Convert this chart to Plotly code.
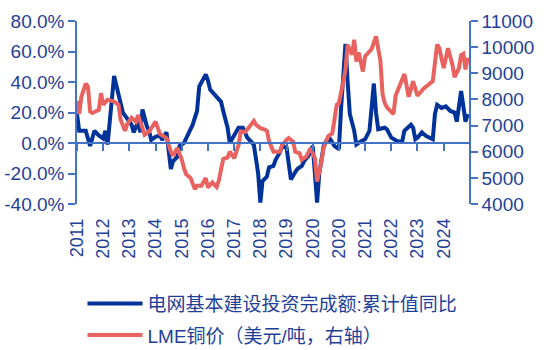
import plotly.graph_objects as go

# ---- data ----
year_labels = ["2011", "2012", "2013", "2014", "2015", "2016", "2017", "2018",
               "2019", "2020", "2020", "2021", "2022", "2023", "2024"]
label_month = [0, 12, 24, 36, 48, 60, 72, 84, 96, 108, 120, 132, 144, 156, 168]

# months since the first observation
grid_month = [0, 1, 4, 6, 8, 10, 12, 13, 14, 17, 19, 21, 22, 24, 25, 26, 28, 29, 30, 32,
              33, 34, 36, 38, 39, 41, 43, 44, 46, 47, 49, 51, 53, 55, 56, 59, 60, 61, 63, 66,
              67, 69, 70, 72, 74, 76, 78, 81, 83, 84, 85, 87, 88, 90, 91, 93, 94, 96, 97, 98,
              100, 101, 103, 104, 106, 108, 109, 110, 111, 113, 114, 116, 118, 120, 121, 122,
              123, 124, 125, 127, 128, 130, 132, 134, 135, 136, 137, 138, 141, 142, 144, 147,
              149, 150, 153, 154, 155, 156, 158, 160, 163, 164, 165, 167, 169, 171, 173, 174,
              176, 177, 178, 179]
grid_yoy = [19, 8, 8, -2, 8, 5, 3, 8, -1, 44, 32, 20, 18, 14, 12, 7, 14, 7, 22, 11,
            8, 2, 4, 5, 2, 7, -17, -12, -9, -2, 0, 6, 12, 21, 37, 45, 41, 35, 32, 27,
            21, 10, 0, 4.5, 10, 10, 3.5, -1, -20, -39, -25, -22, -16, -15, -11, -6, -2, -3, -12, -24,
            -19, -17, -15, -12, -8.5, -2, -20, -39, -20, -2, 1, 2.5, -2, -4, 23, 43,
            65, 40, 19, 8, -1, 1, 2.5, 8, 22, 39, 20, 9, 10, 9, 3.5, 1,
            1, 8, 12, 10, 2.5, 3.5, 7, 4.5, 2.5, 19, 25, 23, 24, 21, 20, 14,
            34, 21, 14, 19]

copper_month = [0, 1, 2, 4, 5, 6, 7, 10, 11, 12, 14, 17, 19, 20, 22, 23, 25, 27, 28, 30,
                31, 33, 36, 38, 41, 43, 44, 46, 48, 49, 50, 52, 54, 55, 57, 59, 60, 62, 64, 65,
                67, 69, 70, 72, 74, 75, 77, 79, 81, 82, 84, 86, 87, 88, 90, 93, 94, 96, 97, 99,
                100, 102, 103, 105, 107, 109, 110, 112, 113, 115, 117, 119, 120, 122, 123, 124,
                126, 127, 128, 129, 131, 132, 135, 137, 139, 140, 141, 142, 145, 146, 148, 150,
                152, 154, 156, 159, 161, 163, 165, 166, 168, 170, 172, 173, 175, 176, 177, 178, 179]
copper_usd = [7950, 7450, 8100, 8600, 8500, 7540, 7480, 7600, 8240, 7800, 7990, 7920, 7800, 7220,
              6800, 7050, 7300, 7150, 7400, 6930,
              6650, 6770, 7150, 6680, 6520, 6000, 5850, 6140, 5700, 5370, 5140, 5000, 4570, 4700,
              4700, 4990, 4630, 4820, 4650, 4900,
              5720, 5780, 6000, 5750, 6250, 6770, 6750, 6950, 7180, 7030, 6900, 6850, 6800, 6400,
              6000, 6000, 6260, 6450, 6520, 6390,
              6000, 5940, 5690, 5810, 6140, 5750, 4860, 5620, 6140, 6580, 6710, 7790, 7860, 8690,
              9140, 10090,
              9710, 10280, 9450, 9800, 9070, 9650, 9930, 10410, 9480, 8200, 7860, 7700, 7440, 8150,
              8600, 8970,
              8100, 8690, 8140, 8430, 8560, 8700, 10100, 9960, 9200, 9960, 9330, 8850, 9200, 9700,
              9750, 9150, 9600]

left_ticks = [-40, -20, 0, 20, 40, 60, 80]
right_ticks = [4000, 5000, 6000, 7000, 8000, 9000, 10000, 11000]

name_blue = "电网基本建设投资完成额:累计值同比"
name_red = "LME铜价（美元/吨，右轴）"

# ---- styles ----
BLUE = "#003399"
RED = "#E8625F"
AXIS = "#4472C4"
TXT = "#1F3F99"
FONT = "Liberation Sans, Arial, Noto Sans CJK SC, sans-serif"

fig = go.Figure()
fig.add_trace(go.Scatter(x=grid_month, y=grid_yoy, name=name_blue, mode="lines",
                         line=dict(color=BLUE, width=4), xaxis="x", yaxis="y", legendgroup="a"))
fig.add_trace(go.Scatter(x=copper_month, y=copper_usd, name=name_red, mode="lines",
                         line=dict(color=RED, width=4), xaxis="x2", yaxis="y2", legendgroup="b"))

xr = [0, 179.6]
fig.update_layout(
    width=550, height=350,
    margin=dict(l=77, r=81, t=21, b=146, autoexpand=False),
    paper_bgcolor="white", plot_bgcolor="white",
    font=dict(family=FONT, color=TXT, size=18),
    showlegend=True,
    legend=dict(xref="container", yref="container", x=0.15, y=0.187,
                xanchor="left", yanchor="top", orientation="v",
                font=dict(size=19, color=TXT, family=FONT),
                itemwidth=55, tracegroupgap=4, bgcolor="rgba(0,0,0,0)"),
    xaxis=dict(range=xr, domain=[0, 1], showgrid=False, zeroline=False, showline=False,
               tickmode="array", tickvals=label_month, ticktext=year_labels,
               tickangle=-90, ticks="", tickfont=dict(size=18, color=TXT),
               ticklabelstandoff=10, automargin=False),
    xaxis2=dict(range=xr, domain=[0, 1], overlaying="x", anchor="free", position=1/3,
                showgrid=False, zeroline=False, showline=True, linecolor=AXIS, linewidth=1.5,
                tickmode="array", tickvals=label_month, ticks="outside", ticklen=7,
                tickwidth=1.5, tickcolor=AXIS, showticklabels=False, automargin=False),
    yaxis=dict(range=[-40, 80], domain=[0, 1], anchor="x", showgrid=False, zeroline=False,
               showline=True, linecolor=AXIS, linewidth=1.5, ticks="outside", ticklen=7,
               tickwidth=1.5, tickcolor=AXIS, tickmode="array", tickvals=left_ticks,
               ticktext=[f"{v:.1f}%" for v in left_ticks], tickfont=dict(size=19, color=TXT),
               automargin=False),
    yaxis2=dict(range=[4000, 11000], overlaying="y", side="right", anchor="x2",
                showgrid=False, zeroline=False, showline=True, linecolor=AXIS, linewidth=1.5,
                ticks="outside", ticklen=7, tickwidth=1.5, tickcolor=AXIS,
                tickmode="array", tickvals=right_ticks,
                ticktext=[str(v) for v in right_ticks], tickfont=dict(size=19, color=TXT),
                automargin=False),
)

fig.write_html("out.html")
